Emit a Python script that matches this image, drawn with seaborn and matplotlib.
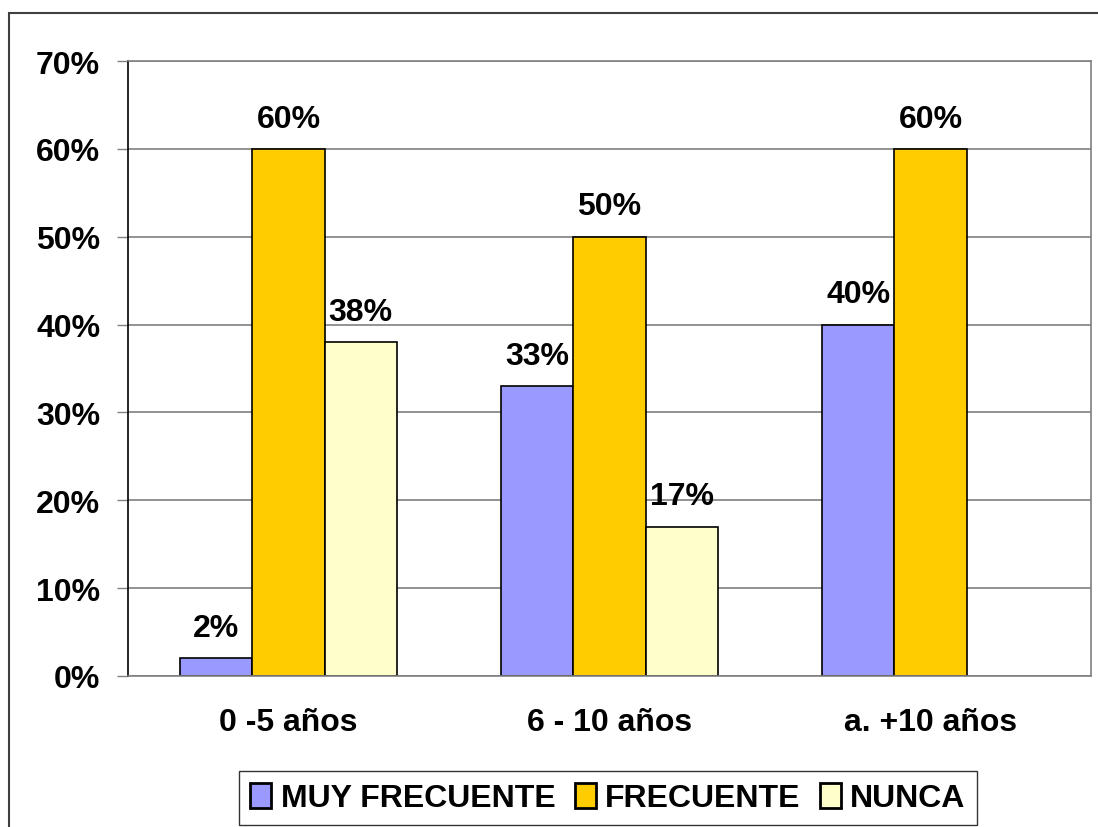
import numpy as np
import pandas as pd
import matplotlib
matplotlib.use("Agg")
import matplotlib.pyplot as plt
import seaborn as sns
from matplotlib.patches import Rectangle, Patch

# data
categories = ["0 -5 años", "6 - 10 años", "a. +10 años"]
series = ["MUY FRECUENTE", "FRECUENTE", "NUNCA"]
muy_frecuente = [2, 33, 40]
frecuente = [60, 50, 60]
nunca = [38, 17, np.nan]
colors = ["#9999FF", "#FFCC00", "#FFFFCC"]

rows = []
for name, vals in zip(series, [muy_frecuente, frecuente, nunca]):
    for cat, v in zip(categories, vals):
        rows.append({"cat": cat, "serie": name, "valor": v})
df = pd.DataFrame(rows)

sns.set_style("white")
plt.rcParams["font.family"] = ["Liberation Sans", "DejaVu Sans"]
plt.rcParams["font.weight"] = "bold"
plt.rcParams["text.color"] = "black"
plt.rcParams["xtick.color"] = "black"
plt.rcParams["ytick.color"] = "black"

FS = 23

fig = plt.figure(figsize=(10.98, 8.28), dpi=100)
ax = fig.add_axes([128 / 1098, 1 - 677 / 828, (1091 - 128) / 1098, (677 - 62) / 828])

sns.barplot(data=df, x="cat", y="valor", hue="serie", order=categories,
            hue_order=series, palette=colors, width=0.675, gap=0,
            edgecolor="black", linewidth=1.2, saturation=1, ax=ax, legend=False)

# value labels
for cont in ax.containers:
    for bar in cont:
        h = bar.get_height()
        if np.isnan(h):
            continue
        ax.annotate(f"{h:.0f}%", (bar.get_x() + bar.get_width() / 2, h),
                    xytext=(0, 11), textcoords="offset points",
                    ha="center", va="bottom", fontsize=FS, fontweight="bold",
                    color="black")

ax.set_ylim(0, 70)
ax.set_xlim(-0.5, 2.5)
ax.set_yticks(range(0, 71, 10))
ax.set_yticklabels([f"{v}%" for v in range(0, 71, 10)], fontsize=FS, fontweight="bold")
ax.yaxis.grid(True, color="#808080", linewidth=1.2)
ax.set_axisbelow(True)
ax.set_xlabel("")
ax.set_ylabel("")
ax.set_xticks([0, 1, 2])
ax.set_xticklabels(categories, fontsize=FS, fontweight="bold")
ax.set_xticks([-0.5, 0.5, 1.5, 2.5], minor=True)
ax.tick_params(axis="x", which="major", length=0, pad=22, labelcolor="black")
ax.tick_params(axis="x", which="minor", length=7, width=1, color="#808080", direction="out")
ax.tick_params(axis="y", length=8, width=1, color="#808080", direction="out", pad=12,
               left=True, labelcolor="black")

for s in ["top", "right", "bottom"]:
    ax.spines[s].set_color("#808080")
    ax.spines[s].set_linewidth(1.2)
ax.spines["left"].set_color("black")
ax.spines["left"].set_linewidth(1.2)

handles = [Patch(facecolor=c, edgecolor="black", linewidth=2) for c in colors]
leg = fig.legend(handles, series, loc="center", bbox_to_anchor=(608 / 1098, 1 - 799 / 828),
                 ncol=3, frameon=True, fancybox=False, edgecolor="black",
                 prop={"size": FS, "weight": "bold"}, handlelength=0.65, handleheight=0.85,
                 handletextpad=0.3, columnspacing=0.6, borderpad=0.35, borderaxespad=0)
leg.get_frame().set_linewidth(1.0)
for t in leg.get_texts():
    t.set_color("black")

# outer chart frame
fig.patches.append(Rectangle((9 / 1098, -0.02), 1.1, 1 - 14 / 828 + 0.02,
                             transform=fig.transFigure, fill=False,
                             edgecolor="#404040", linewidth=1.5))

fig.savefig("out.png", dpi=100)
